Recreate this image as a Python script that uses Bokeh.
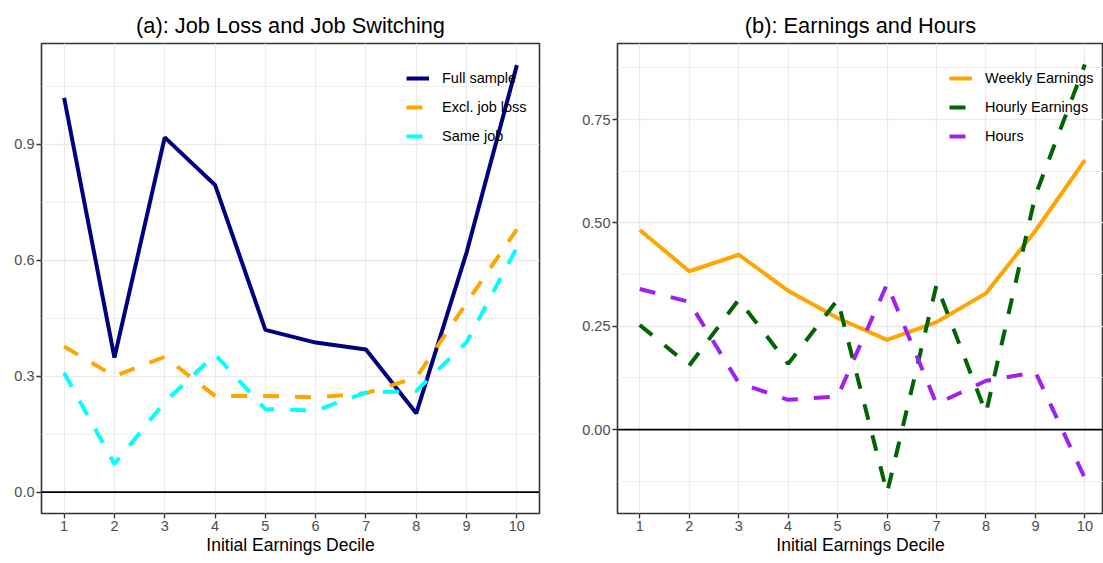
from bokeh.plotting import figure
from bokeh.layouts import row
from bokeh.models import FixedTicker, Span, Legend, LegendItem, Range1d
from bokeh.embed import file_html
from bokeh.resources import INLINE

# data
deciles = [1, 2, 3, 4, 5, 6, 7, 8, 9, 10]

full_sample = [1.020, 0.348, 0.918, 0.795, 0.420, 0.387, 0.369, 0.204, 0.620, 1.105]
excl_job_loss = [0.377, 0.300, 0.350, 0.249, 0.249, 0.245, 0.256, 0.296, 0.490, 0.680]
same_job = [0.309, 0.073, 0.233, 0.356, 0.215, 0.211, 0.258, 0.262, 0.388, 0.633]

weekly_earnings = [0.483, 0.383, 0.423, 0.336, 0.270, 0.217, 0.260, 0.330, 0.481, 0.652]
hourly_earnings = [0.253, 0.155, 0.314, 0.159, 0.314, -0.153, 0.350, 0.040, 0.567, 0.883]
hours = [0.340, 0.309, 0.113, 0.072, 0.080, 0.352, 0.062, 0.118, 0.139, -0.118]

left_ticks = [0.0, 0.3, 0.6, 0.9]
left_tick_labels = ["0.0", "0.3", "0.6", "0.9"]
left_minor = [0.15, 0.45, 0.75, 1.05]
right_ticks = [0.0, 0.25, 0.5, 0.75]
right_tick_labels = ["0.00", "0.25", "0.50", "0.75"]
right_minor = [-0.125, 0.125, 0.375, 0.625, 0.875]

FONT = "Liberation Sans"
GRID = "#EBEBEB"


def make_panel(title, x_end, y_range, ticks, tick_labels, minor, min_left, min_right, frame_w):
    p = figure(frame_width=frame_w, frame_height=470,
               x_range=Range1d(0.55, x_end), y_range=Range1d(*y_range),
               output_backend="svg", toolbar_location=None,
               min_border_left=min_left, min_border_right=min_right,
               min_border_top=43, min_border_bottom=0)
    p.title.text = title
    p.title.align = "center"
    p.title.text_font = FONT
    p.title.text_font_size = "21.8px"
    p.title.text_font_style = "normal"
    p.title.text_color = "black"
    p.title.standoff = 12

    p.outline_line_color = "#333333"
    p.outline_line_width = 1.6
    p.background_fill_color = "white"
    p.border_fill_color = "white"

    p.xaxis.ticker = FixedTicker(ticks=deciles, minor_ticks=[])
    p.yaxis.ticker = FixedTicker(ticks=ticks, minor_ticks=minor)
    p.yaxis.major_label_overrides = {t: l for t, l in zip(ticks, tick_labels)}
    p.xaxis.axis_label = "Initial Earnings Decile"

    for ax in (p.xaxis, p.yaxis):
        ax.axis_line_color = None
        ax.major_tick_line_color = "#333333"
        ax.major_tick_line_width = 1.3
        ax.major_tick_out = 5
        ax.major_tick_in = 0
        ax.minor_tick_line_color = None
        ax.major_label_text_font = FONT
        ax.major_label_text_font_size = "14.5px"
        ax.major_label_text_color = "#4D4D4D"
        ax.major_label_standoff = 2
        ax.axis_label_text_font = FONT
        ax.axis_label_text_font_size = "17.5px"
        ax.axis_label_text_font_style = "normal"
        ax.axis_label_text_color = "black"
        ax.axis_label_standoff = 1

    p.xgrid.grid_line_color = GRID
    p.xgrid.grid_line_width = 1.3
    p.ygrid.grid_line_color = GRID
    p.ygrid.grid_line_width = 1.3
    p.ygrid.minor_grid_line_color = GRID
    p.ygrid.minor_grid_line_width = 0.8

    p.add_layout(Span(location=0, dimension="width", line_color="black", line_width=1.6))
    return p


def add_lines(p, series, legend_x):
    items = []
    for label, ys, color, dash in series:
        r = p.line(deciles, ys, line_color=color, line_width=4, line_dash=dash)
        items.append(LegendItem(label=label, renderers=[r]))
    # transparent box so the data lines stay visible through the legend
    leg = Legend(items=items, location=(legend_x, 367))
    leg.background_fill_alpha = 0
    leg.border_line_color = None
    leg.label_text_font = FONT
    leg.label_text_font_size = "14.5px"
    leg.label_text_color = "black"
    leg.glyph_width = 23
    leg.glyph_height = 20
    leg.label_height = 20
    leg.label_standoff = 13
    leg.spacing = 9
    leg.padding = 8
    leg.margin = 0
    p.add_layout(leg)


p1 = make_panel("(a): Job Loss and Job Switching", 10.45, (-0.0553, 1.161),
                left_ticks, left_tick_labels, left_minor, 41, 29, 498)
add_lines(p1, [
    ("Full sample", full_sample, "#000080", "solid"),
    ("Excl. job loss", excl_job_loss, "#FFA500", "16 16"),
    ("Same job", same_job, "#00FFFF", "16 16"),
], 365)

p2 = make_panel("(b): Earnings and Hours", 10.376, (-0.203, 0.934),
                right_ticks, right_tick_labels, right_minor, 49, 0, 486)
add_lines(p2, [
    ("Weekly Earnings", weekly_earnings, "#FFA500", "solid"),
    ("Hourly Earnings", hourly_earnings, "#006400", "16 16"),
    ("Hours", hours, "#A020F0", "16 16"),
], 332)

layout = row(p1, p2)
open("out.html", "w").write(file_html(layout, INLINE))
